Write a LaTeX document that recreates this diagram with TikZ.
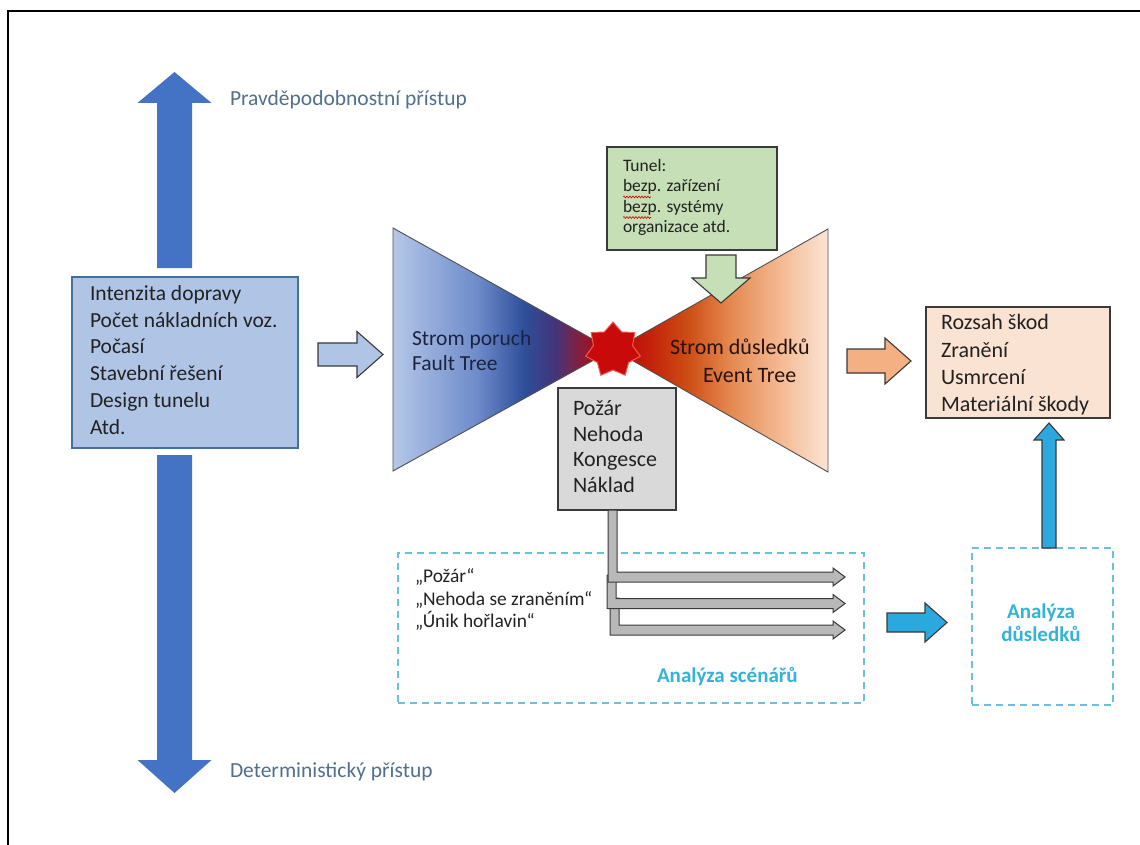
\documentclass[tikz,border=0pt]{standalone}
\usepackage{fontspec}
\setmainfont{Carlito}
\usetikzlibrary{shapes.geometric,decorations.pathmorphing}

% palette
\definecolor{bigblue}{HTML}{4472C4}
\definecolor{approach}{HTML}{52708E}
\definecolor{infill}{HTML}{B0C4E6}
\definecolor{inedge}{HTML}{41719C}
\definecolor{txt}{HTML}{222222}
\definecolor{edgegray}{HTML}{3A3A3A}
\definecolor{greenfill}{HTML}{C6DFB7}
\definecolor{grayfill}{HTML}{D9D9D9}
\definecolor{peachfill}{HTML}{FBE3D4}
\definecolor{orangefill}{HTML}{F4AF82}
\definecolor{cyanfill}{HTML}{2BA9DF}
\definecolor{dashcol}{HTML}{6DC0D7}
\definecolor{cyantext}{HTML}{35B3D6}
\definecolor{elbowfill}{HTML}{B8B8B8}
\definecolor{blastred}{HTML}{C80A0A}
\definecolor{blastedge}{HTML}{F05A4A}
\definecolor{triedge}{HTML}{505050}
\definecolor{faulttxt}{HTML}{1C2340}
\definecolor{eventtxt}{HTML}{2A1208}

% fault tree: light blue -> dark blue -> red
\definecolor{ftA}{HTML}{B4C7E7}
\definecolor{ftB}{HTML}{6F8CCB}
\definecolor{ftC}{HTML}{2F4E9A}
\definecolor{ftD}{HTML}{43357A}
\definecolor{ftE}{HTML}{8A1C3A}
\definecolor{ftF}{HTML}{C00000}
\pgfdeclarehorizontalshading{faultshade}{100bp}{color(0bp)=(ftA); color(25bp)=(ftA); color(44bp)=(ftB); color(55bp)=(ftC); color(62bp)=(ftD); color(68bp)=(ftE); color(75bp)=(ftF); color(100bp)=(ftF)}

% event tree: red -> orange -> pale peach
\definecolor{etA}{HTML}{C00000}
\definecolor{etB}{HTML}{C3200A}
\definecolor{etC}{HTML}{CC4C14}
\definecolor{etD}{HTML}{E4884F}
\definecolor{etE}{HTML}{F3B68E}
\definecolor{etF}{HTML}{FCE4D5}
\pgfdeclarehorizontalshading{eventshade}{100bp}{color(0bp)=(etA); color(25bp)=(etA); color(33bp)=(etB); color(42bp)=(etC); color(52bp)=(etD); color(63bp)=(etE); color(75bp)=(etF); color(100bp)=(etF)}

% block arrow pointing right: start x, head base x, tip x, centre y, shaft half, head half
\newcommand\barrowR[6]{(#1,#4-#5) -- (#2,#4-#5) -- (#2,#4-#6) -- (#3,#4) -- (#2,#4+#6) -- (#2,#4+#5) -- (#1,#4+#5) -- cycle}
% vertical block arrow: centre x, start y, head base y, tip y, shaft half, head half
\newcommand\barrowV[6]{(#1-#5,#2) -- (#1-#5,#3) -- (#1-#6,#3) -- (#1,#4) -- (#1+#6,#3) -- (#1+#5,#3) -- (#1+#5,#2) -- cycle}
% elbow arrow from the events box: trunk left x, trunk right x, top y, branch centre y
\newcommand\elbowpath[4]{(#1,#3) -- (#1,#4+5) -- (833,#4+5) -- (833,#4+9) -- (845,#4) -- (833,#4-9) -- (833,#4-5) -- (#2,#4-5) -- (#2,#3) -- cycle}

\begin{document}
\begin{tikzpicture}[x=1pt,y=-1pt,
  every node/.style={inner sep=0pt, outer sep=0pt, text=txt},
  boxbase/.style={rectangle, draw=edgegray, line width=1.3pt, anchor=north west},
  dashbox/.style={rectangle, draw=dashcol, line width=1.2pt, dash pattern=on 7pt off 5pt, anchor=north west},
  blockarrow/.style={draw=edgegray, line width=1.1pt, line join=miter},
  bigarrow/.style={fill=bigblue, draw=none},
  lbl/.style={anchor=west, align=left},
  approachlbl/.style={anchor=west, text=approach, font=\fontsize{21.5}{25}\selectfont},
  cyanlbl/.style={text=cyantext, font=\fontsize{21}{23}\selectfont\bfseries},
  elbow/.style={fill=elbowfill, draw=edgegray, line width=1pt, line join=miter},
  squiggle/.style={draw=red!80!black, line width=0.6pt, decorate, decoration={snake, amplitude=0.9pt, segment length=3pt}}
]
\useasboundingbox (0,0) rectangle (1140,845);
\fill[white] (0,0) rectangle (1140,845);

% frame
\draw[line width=2pt] (8,845) -- (8,11) -- (1140,11);

% approach arrows
\fill[bigarrow] \barrowV{174.5}{268}{103}{72}{17.5}{37};
\fill[bigarrow] \barrowV{174.5}{455}{760}{793}{17.5}{37};
\node[approachlbl] (prob) at (230,100) {Pravděpodobnostní přístup};
\node[approachlbl] (determ) at (230,772) {Deterministický přístup};

% input box
\node[boxbase, fill=infill, draw=inedge, minimum width=226, minimum height=171] (inputs) at (72,277) {};
\node[lbl, font=\fontsize{21.5}{26.8}\selectfont] (inputstxt) at (90,360)
  {Intenzita dopravy\\Počet nákladních voz.\\Počasí\\Stavební řešení\\Design tunelu\\Atd.};

% arrow into the bow tie
\draw[blockarrow, fill=infill] \barrowR{318}{357}{383}{354.5}{11.5}{23};

% bow tie
\shade[shading=faultshade, draw=triedge, line width=0.9pt] (393,228) -- (612,350) -- (393,471) -- cycle;
\shade[shading=eventshade, draw=triedge, line width=0.9pt] (828,229) -- (614,350) -- (828,472) -- cycle;
\node[lbl, text=faulttxt, font=\fontsize{21.5}{25}\selectfont] (fault) at (412,350.5) {Strom poruch\\Fault Tree};
\node[lbl, text=eventtxt, font=\fontsize{22}{25}\selectfont] (eventa) at (670,347) {Strom důsledků};
\node[lbl, text=eventtxt, font=\fontsize{22}{25}\selectfont] (eventb) at (703,376) {Event Tree};
\node[star, star points=7, star point ratio=1.4, minimum size=56, fill=blastred, draw=blastedge, line width=1pt] (blast) at (613,350) {};

% tunnel measures
\node[boxbase, fill=greenfill, minimum width=170, minimum height=103] (tunnel) at (607,147) {};
\node[lbl, font=\fontsize{17.5}{20.3}\selectfont] (tunneltxt) at (623,197.5)
  {Tunel:\\bezp. zařízení\\bezp. systémy\\organizace atd.};
\draw[squiggle] (623,197) -- (651,197);
\draw[squiggle] (623,217.5) -- (651,217.5);
\draw[blockarrow, fill=greenfill] \barrowV{721}{255}{278}{303}{15}{29};

% initiating events
\node[boxbase, fill=grayfill, minimum width=118, minimum height=122] (events) at (558,388) {};
\node[lbl, font=\fontsize{22}{25.7}\selectfont] (eventstxt) at (573,446.5) {Požár\\Nehoda\\Kongesce\\Náklad};

% consequences
\draw[blockarrow, fill=orangefill] \barrowR{847}{885}{911}{361}{12}{23};
\node[boxbase, fill=peachfill, minimum width=184, minimum height=111] (damage) at (926,307) {};
\node[lbl, font=\fontsize{22}{27.3}\selectfont] (damagetxt) at (941,365)
  {Rozsah škod\\Zranění\\Usmrcení\\Materiální škody};

% scenario analysis
\node[dashbox, minimum width=466, minimum height=150] (scen) at (398,553) {};
\draw[elbow] \elbowpath{610}{619}{598}{630};
\draw[elbow] \elbowpath{607}{616}{575}{603.5};
\draw[elbow] \elbowpath{608}{617}{510}{577};
\node[lbl, font=\fontsize{19.4}{22.7}\selectfont] (scentxt) at (415,599.5)
  {„Požár“\\„Nehoda se zraněním“\\„Únik hořlavin“};
\node[cyanlbl, anchor=west] (scenlbl) at (657,677) {Analýza scénářů};

% consequence analysis
\draw[blockarrow, fill=cyanfill] \barrowR{887}{925}{947}{622.5}{9.5}{19.5};
\node[dashbox, minimum width=141, minimum height=157] (conseq) at (972,548) {};
\node[cyanlbl, align=center] (conseqlbl) at (1041,623) {Analýza\\důsledků};
\draw[blockarrow, fill=cyanfill] \barrowV{1049}{548}{440}{423}{7}{15};
\end{tikzpicture}
\end{document}
